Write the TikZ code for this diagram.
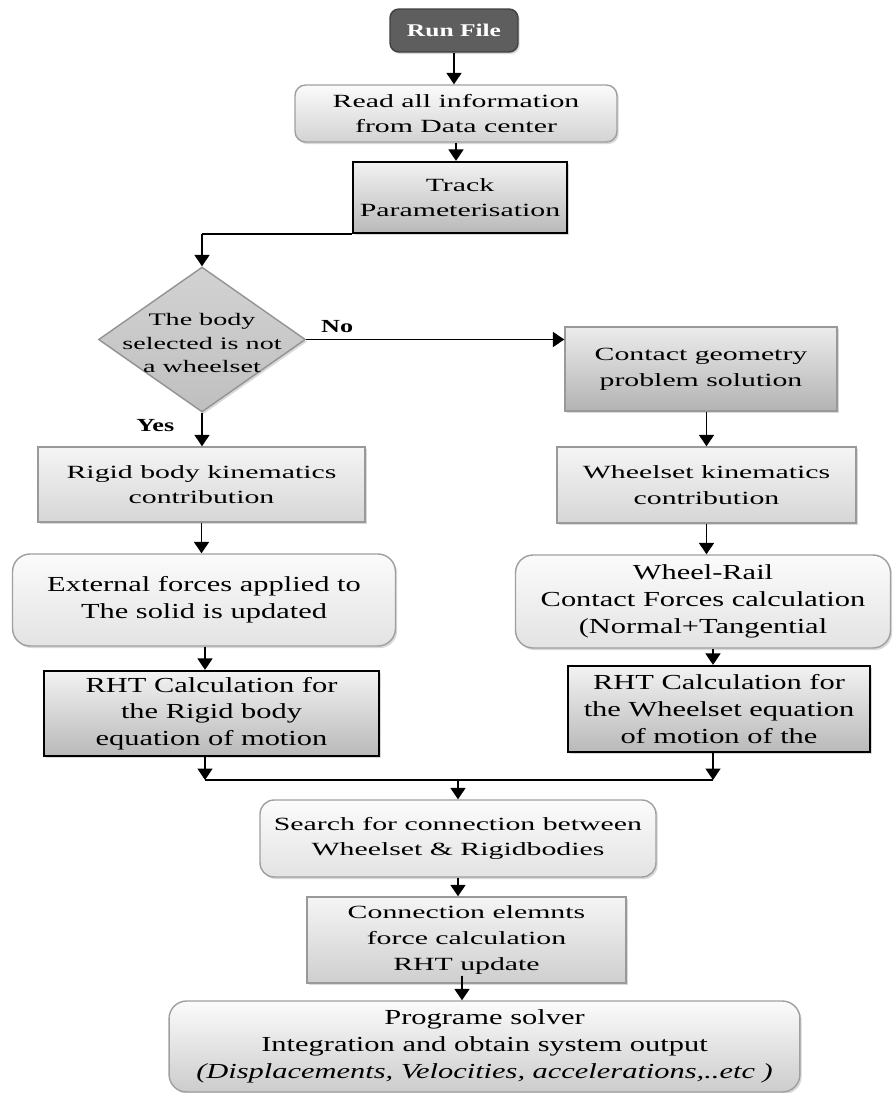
\documentclass[tikz,border=0pt]{standalone}
\usepackage{fontspec}
\setmainfont{Liberation Serif}[FakeStretch=1.42]
\newfontfamily\wideserif{Liberation Serif}[FakeStretch=1.6]
\usetikzlibrary{arrows.meta,shapes.geometric,shadows,positioning}

\newcommand{\wtext}{\wideserif\fontsize{10.6}{14.6}\selectfont}
\newcommand{\ntext}{\fontsize{12.2}{15.2}\selectfont}
\newcommand{\lbltext}{\bfseries\fontsize{10.5}{12}\selectfont}

\tikzset{
  flowline/.style={line width=1pt,-{Triangle[length=6.5pt,width=8.5pt]}},
  softshadow/.style={drop shadow={shadow xshift=1pt,shadow yshift=-1.2pt,opacity=.3}},
  startbox/.style={rectangle,rounded corners=5pt,draw=black!75,line width=0.8pt,
    fill=black!63,text=white,font=\bfseries\fontsize{10.2}{12}\selectfont,softshadow},
  plainbox/.style={rectangle,draw=gray!80,line width=0.8pt,top color=gray!8,
    bottom color=gray!32,align=center,inner sep=0pt,font=\wtext,softshadow},
  darkbox/.style={rectangle,draw=black,line width=1.3pt,top color=gray!10,
    bottom color=gray!55,align=center,inner sep=0pt,softshadow},
  roundbox/.style={rectangle,rounded corners=10pt,draw=gray!75,line width=0.8pt,
    top color=gray!3,bottom color=gray!22,align=center,inner sep=0pt,softshadow},
  decision/.style={diamond,draw=gray!85,line width=0.8pt,top color=gray!35,
    bottom color=gray!50,inner sep=0pt,minimum width=4.14cm,minimum height=2.9cm,softshadow}
}

\begin{document}
\begin{tikzpicture}[x=0.02cm,y=-0.02cm]
  \useasboundingbox (0,0) rectangle (893,1093);

  \node[startbox,minimum width=2.56cm,minimum height=0.86cm] (run) at (454,30.5) {Run File};
  \node[roundbox,rounded corners=6pt,font=\wtext,bottom color=gray!35,
    minimum width=6.44cm,minimum height=1.14cm] (read) at (456,113.5)
    {Read all information\\from Data center};
  \node[darkbox,font=\wtext,minimum width=4.28cm,minimum height=1.42cm] (track) at (460,197.5)
    {Track\\Parameterisation};

  \node[decision] (dec) at (202,339.5) {};
  \node[align=center,font=\wideserif\fontsize{10}{13.6}\selectfont] (dectext) at (202,343)
    {The body\\selected is not\\a wheelset};

  \node[plainbox,top color=gray!15,bottom color=gray!60,
    minimum width=5.44cm,minimum height=1.68cm] (contact) at (701,369)
    {Contact geometry\\problem solution};
  \node[plainbox,minimum width=6.54cm,minimum height=1.5cm] (rigid) at (201.5,484.5)
    {Rigid body kinematics\\contribution};
  \node[plainbox,minimum width=5.98cm,minimum height=1.52cm] (wheel) at (706.5,485)
    {Wheelset kinematics\\contribution};

  \node[roundbox,font=\ntext,minimum width=7.66cm,minimum height=1.84cm] (ext) at (204,600)
    {External forces applied to\\The solid is updated};
  \node[roundbox,font=\ntext,minimum width=7.5cm,minimum height=1.86cm] (rail) at (703,601.5)
    {Wheel-Rail\\Contact Forces calculation\\(Normal+Tangential};

  \node[darkbox,font=\ntext,minimum width=6.7cm,minimum height=1.7cm] (rhtA) at (211.5,713.5)
    {RHT Calculation for\\the Rigid body\\equation of motion};
  \node[darkbox,font=\ntext,minimum width=6.04cm,minimum height=1.72cm] (rhtB) at (719,709)
    {RHT Calculation for\\the Wheelset equation\\of motion of the};

  \coordinate (mL) at (205,780);
  \coordinate (mR) at (713,780);
  \coordinate (mM) at (458,780);

  \node[roundbox,rounded corners=8pt,font=\wtext,minimum width=7.92cm,minimum height=1.54cm]
    (search) at (458,838.5) {Search for connection between\\Wheelset \& Rigidbodies};
  \node[plainbox,bottom color=gray!38,minimum width=6.38cm,minimum height=1.72cm]
    (conn) at (466.5,940) {Connection elemnts\\force calculation\\RHT update};
  \node[roundbox,font=\ntext,bottom color=gray!40,minimum width=12.62cm,minimum height=1.82cm]
    (prog) at (484.5,1046.5)
    {Programe solver\\Integration and obtain system output\\\textit{(Displacements, Velocities, accelerations,..etc )}};

  % straight downward links
  \foreach \a/\b in {run/read, read/track, rigid/ext, search/conn}
    \draw[flowline] (\a.south) -- (\a.south |- \b.north);

  \draw[line width=1pt] (track.south west) -- (track.south west -| dec.north);
  \draw[flowline] (track.south west -| dec.north) -- (dec.north);
  \draw[flowline] (dec.east) -- node[pos=0.12,above,font=\lbltext] (no) {No} (dec.east -| contact.west);
  \draw[flowline] (dec.south) -- node[pos=0.37,left=12pt,font=\lbltext] (yes) {Yes} (dec.south |- rigid.north);
  \draw[flowline] (wheel.north |- contact.south) -- (wheel.north);
  \draw[flowline] (wheel.south) -- (wheel.south |- rail.north);
  \draw[flowline] (mL |- ext.south) -- (mL |- rhtA.north);
  \draw[flowline] (mR |- rail.south) -- (mR |- rhtB.north);

  % merge of both branches
  \draw[flowline] (mL |- rhtA.south) -- (mL);
  \draw[flowline] (mR |- rhtB.south) -- (mR);
  \draw[line width=1pt] (mL) -- (mR);
  \draw[flowline] (mM) -- (mM |- search.north);

  \coordinate (cp) at ([shift={(-4.5,-8)}]conn.south);
  \draw[flowline] (cp) -- (cp |- prog.north);
\end{tikzpicture}
\end{document}
